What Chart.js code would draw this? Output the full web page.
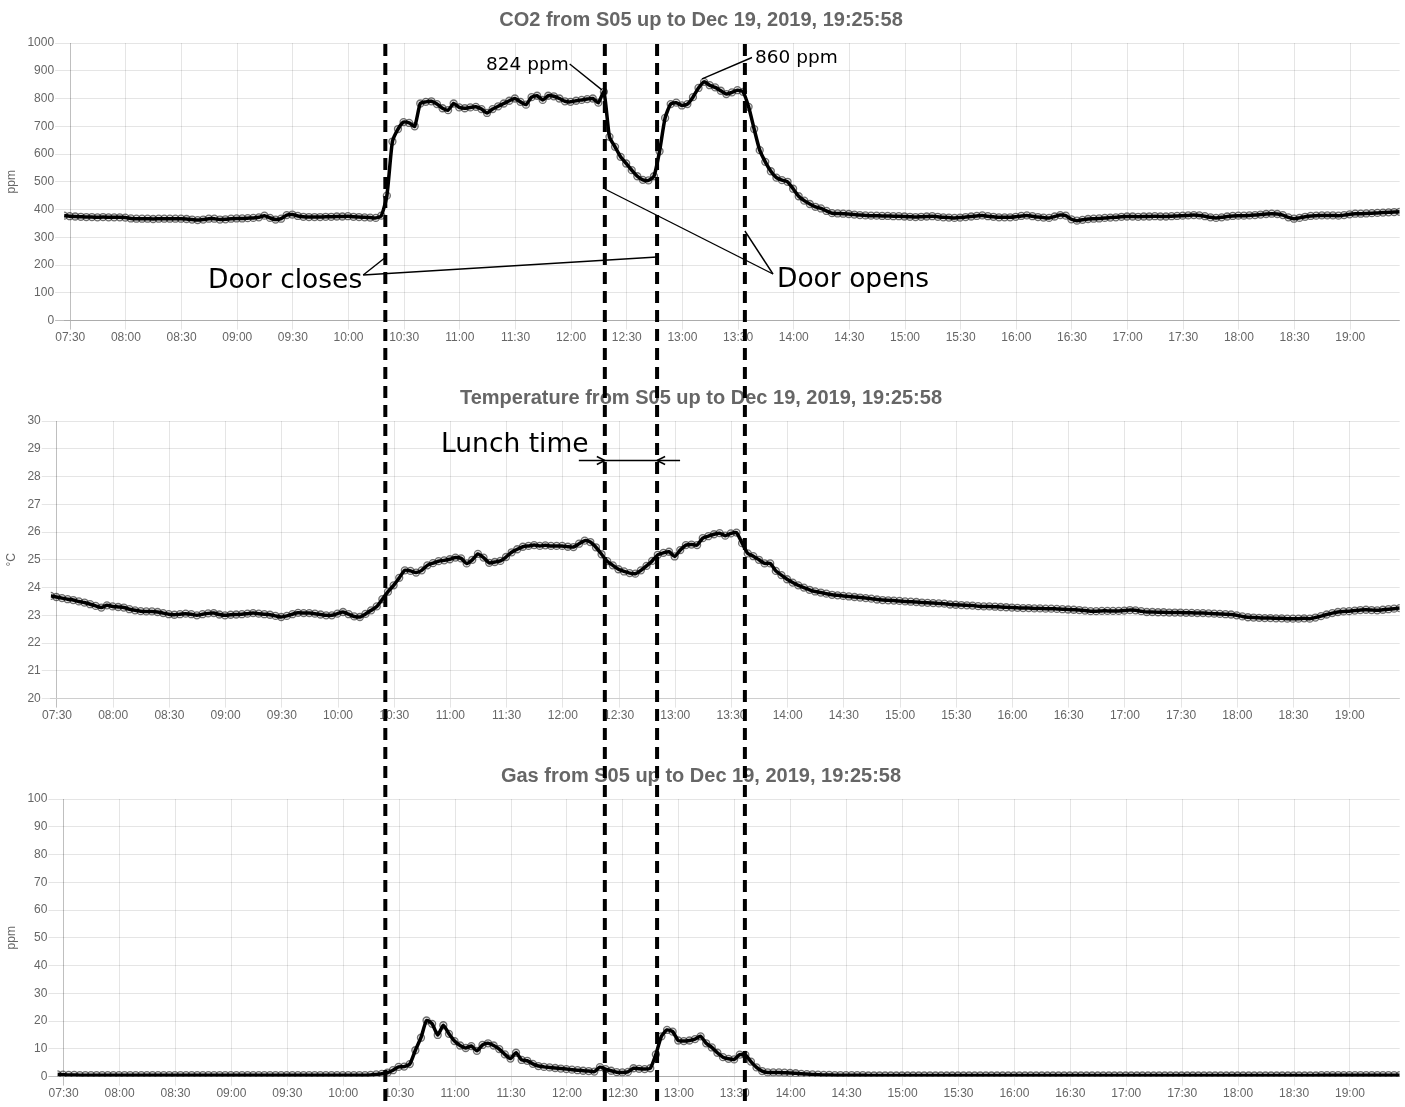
<!DOCTYPE html>
<html>
<head>
<meta charset="utf-8">
<title>S05 | sensors</title>
<script src="https://cdn.jsdelivr.net/npm/chart.js@4.4.1/dist/chart.umd.min.js"></script>
<style>
  html, body { margin: 0; padding: 0; background: #fff; overflow: hidden; }
  #page { position: relative; width: 1405px; height: 1107px; }
  .box { position: absolute; left: 0; width: 1405px; height: 346px; }
  #overlay { position: absolute; left: 0; top: 0; pointer-events: none; }
</style>
</head>
<body>
<div id="page">
  <div class="box" style="top:0"><canvas id="co2Chart"></canvas></div>
  <div class="box" style="top:378px"><canvas id="tempChart"></canvas></div>
  <div class="box" style="top:756px"><canvas id="gasChart"></canvas></div>
  <canvas id="overlay" width="1405" height="1107"></canvas>
</div>
<script>
// readings every 3 minutes
const sampleStart = "07:26:40";
const sampleStep = 3;

const xTickLabels = ["07:30", "08:00", "08:30", "09:00", "09:30", "10:00", "10:30", "11:00",
  "11:30", "12:00", "12:30", "13:00", "13:30", "14:00", "14:30", "15:00", "15:30", "16:00",
  "16:30", "17:00", "17:30", "18:00", "18:30", "19:00"];
const co2Ticks = [0, 100, 200, 300, 400, 500, 600, 700, 800, 900, 1000];
const tempTicks = [20, 21, 22, 23, 24, 25, 26, 27, 28, 29, 30];
const gasTicks = [0, 10, 20, 30, 40, 50, 60, 70, 80, 90, 100];

const co2Values = [
  378, 376, 375, 374, 373, 373, 372, 373, 372, 372, // 07:26
  372, 371, 368, 367, 367, 367, 366, 367, 367, 367, // 07:56
  367, 367, 366, 364, 362, 364, 367, 367, 364, 365, // 08:26
  367, 368, 368, 369, 370, 372, 378, 370, 364, 367, // 08:56
  380, 382, 377, 374, 373, 373, 373, 374, 374, 375, // 09:26
  375, 376, 374, 373, 372, 371, 370, 378, 450, 645, // 09:56
  690, 715, 712, 700, 782, 788, 790, 780, 765, 758, // 10:26
  782, 768, 765, 768, 770, 762, 748, 762, 772, 782, // 10:56
  792, 800, 788, 778, 805, 810, 795, 810, 808, 800, // 11:26
  790, 788, 792, 795, 798, 800, 785, 824, 662, 626, // 11:56
  590, 566, 542, 520, 507, 505, 520, 610, 730, 780, // 12:26
  785, 775, 780, 805, 838, 860, 848, 840, 828, 816, // 12:56
  822, 830, 824, 770, 690, 614, 572, 538, 515, 506, // 13:26
  500, 475, 448, 432, 420, 410, 404, 395, 387, 386, // 13:56
  385, 384, 382, 380, 379, 378, 378, 377, 377, 376, // 14:26
  376, 375, 374, 373, 374, 375, 376, 374, 372, 371, // 14:56
  370, 371, 373, 375, 377, 379, 376, 374, 372, 372, // 15:26
  372, 374, 377, 379, 376, 373, 371, 370, 375, 380, // 15:56
  378, 365, 360, 363, 366, 367, 368, 370, 371, 372, // 16:26
  374, 375, 375, 374, 375, 375, 376, 375, 375, 376, // 16:56
  377, 378, 379, 380, 379, 376, 372, 370, 372, 375, // 17:26
  377, 378, 378, 379, 380, 382, 384, 385, 384, 380, // 17:56
  372, 367, 370, 374, 377, 378, 379, 379, 379, 378, // 18:26
  380, 383, 385, 385, 386, 387, 388, 389, 390, 391, // 18:56
  392
];

const tempValues = [
  23.70, 23.66, 23.62, 23.58, 23.55, 23.50, 23.46, 23.40, 23.34, 23.28,
  23.36, 23.32, 23.30, 23.28, 23.22, 23.18, 23.15, 23.14, 23.14, 23.12,
  23.08, 23.04, 23.02, 23.04, 23.06, 23.04, 23.00, 23.04, 23.07, 23.08,
  23.03, 23.00, 23.02, 23.03, 23.04, 23.06, 23.08, 23.06, 23.04, 23.02,
  22.98, 22.94, 22.98, 23.04, 23.09, 23.08, 23.08, 23.06, 23.03, 23.00,
  23.00, 23.06, 23.12, 23.04, 22.96, 22.94, 23.05, 23.18, 23.32, 23.58,
  23.85, 24.08, 24.35, 24.62, 24.60, 24.54, 24.62, 24.80, 24.88, 24.95,
  24.98, 25.02, 25.08, 25.05, 24.87, 25.00, 25.21, 25.08, 24.89, 24.92,
  24.96, 25.10, 25.27, 25.38, 25.47, 25.50, 25.53, 25.50, 25.52, 25.50,
  25.50, 25.50, 25.47, 25.46, 25.58, 25.69, 25.64, 25.45, 25.20, 24.95,
  24.80, 24.66, 24.58, 24.52, 24.50, 24.62, 24.78, 24.96, 25.18, 25.25,
  25.29, 25.12, 25.35, 25.53, 25.55, 25.53, 25.78, 25.85, 25.92, 25.96,
  25.87, 25.95, 25.98, 25.60, 25.23, 25.13, 25.00, 24.87, 24.87, 24.60,
  24.45, 24.30, 24.18, 24.08, 24.00, 23.92, 23.86, 23.82, 23.78, 23.74,
  23.72, 23.70, 23.68, 23.66, 23.64, 23.62, 23.60, 23.57, 23.55, 23.54,
  23.53, 23.52, 23.50, 23.49, 23.48, 23.46, 23.45, 23.44, 23.43, 23.42,
  23.39, 23.38, 23.37, 23.36, 23.35, 23.33, 23.32, 23.32, 23.31, 23.30,
  23.29, 23.28, 23.27, 23.26, 23.26, 23.25, 23.25, 23.24, 23.24, 23.23,
  23.22, 23.21, 23.20, 23.19, 23.17, 23.15, 23.15, 23.16, 23.16, 23.16,
  23.16, 23.17, 23.19, 23.18, 23.15, 23.12, 23.12, 23.11, 23.11, 23.10,
  23.10, 23.10, 23.09, 23.09, 23.08, 23.08, 23.07, 23.06, 23.05, 23.04,
  23.03, 23.00, 22.96, 22.93, 22.92, 22.91, 22.90, 22.90, 22.89, 22.89,
  22.88, 22.88, 22.88, 22.89, 22.88, 22.92, 22.97, 23.03, 23.08, 23.12,
  23.14, 23.15, 23.17, 23.19, 23.20, 23.19, 23.18, 23.20, 23.22, 23.24,
  23.26
];

const gasValues = [
  0.8, 0.7, 0.6, 0.6, 0.5, 0.5, 0.5, 0.5, 0.5, 0.5,
  0.5, 0.5, 0.5, 0.5, 0.5, 0.5, 0.5, 0.5, 0.5, 0.5,
  0.5, 0.5, 0.5, 0.5, 0.5, 0.5, 0.5, 0.5, 0.5, 0.5,
  0.5, 0.5, 0.5, 0.5, 0.5, 0.5, 0.5, 0.5, 0.5, 0.5,
  0.5, 0.5, 0.5, 0.5, 0.5, 0.5, 0.5, 0.5, 0.5, 0.5,
  0.5, 0.5, 0.5, 0.5, 0.5, 0.5, 0.6, 0.8, 1.0, 1.4,
  2.3, 3.5, 3.6, 4.5, 9.5, 14.0, 20.2, 19.0, 15.0, 18.5,
  15.4, 12.8, 11.2, 10.3, 11.0, 9.3, 11.4, 12.0, 11.2, 9.9,
  8.0, 6.5, 8.6, 6.0, 5.7, 4.6, 3.8, 3.5, 3.3, 3.1,
  2.9, 2.7, 2.5, 2.3, 2.1, 2.0, 1.8, 3.4, 2.7, 2.1,
  1.6, 1.5, 1.7, 3.0, 2.8, 2.7, 3.0, 8.0, 14.5, 16.8,
  16.2, 13.0, 12.8, 13.0, 13.5, 14.5, 12.0, 10.5, 8.6, 7.0,
  6.4, 6.2, 7.9, 7.8, 5.4, 3.3, 2.0, 1.5, 1.5, 1.5,
  1.4, 1.3, 1.2, 1.0, 0.9, 0.8, 0.7, 0.6, 0.6, 0.5,
  0.5, 0.5, 0.5, 0.5, 0.5, 0.4, 0.4, 0.4, 0.4, 0.4,
  0.4, 0.4, 0.4, 0.4, 0.4, 0.4, 0.4, 0.4, 0.4, 0.4,
  0.4, 0.4, 0.4, 0.4, 0.4, 0.4, 0.4, 0.4, 0.4, 0.4,
  0.4, 0.4, 0.4, 0.4, 0.4, 0.4, 0.4, 0.4, 0.4, 0.4,
  0.4, 0.4, 0.4, 0.4, 0.4, 0.4, 0.4, 0.4, 0.4, 0.4,
  0.4, 0.4, 0.4, 0.4, 0.4, 0.4, 0.4, 0.4, 0.4, 0.4,
  0.4, 0.4, 0.4, 0.4, 0.4, 0.4, 0.4, 0.4, 0.4, 0.4,
  0.4, 0.4, 0.4, 0.4, 0.4, 0.4, 0.4, 0.4, 0.4, 0.4,
  0.4, 0.4, 0.4, 0.4, 0.4, 0.4, 0.5, 0.5, 0.5, 0.5,
  0.5, 0.5, 0.5, 0.5, 0.5, 0.5, 0.5, 0.5, 0.5, 0.5,
  0.5
];

// door events, read on the CO2 time axis
const doorTimes = ["10:19:50", "12:18:10", "12:46:20", "13:33:40"];

function toMinutes(s) {
  const p = s.split(":").map(Number);
  return p[0] * 60 + p[1] + (p[2] || 0) / 60;
}

const startMin = toMinutes(sampleStart);
const endMin = startMin + sampleStep * (co2Values.length - 1);
const xTickValues = xTickLabels.map(toMinutes);

Chart.defaults.font.family = "'Liberation Sans', Arial, Helvetica, sans-serif";
Chart.defaults.font.size = 12;
Chart.defaults.color = "#666";

function makeChart(id, title, unit, values, ticks) {
  return new Chart(document.getElementById(id), {
    type: "line",
    data: {
      datasets: [{
        data: values.map((v, i) => ({ x: startMin + i * sampleStep, y: v })),
        borderColor: "#000",
        borderWidth: 3.5,
        pointRadius: 3.5,
        pointBorderWidth: 1.3,
        pointBorderColor: "rgba(0,0,0,0.55)",
        pointBackgroundColor: "rgba(0,0,0,0.1)",
        fill: false,
        tension: 0.2,
      }],
    },
    options: {
      responsive: true,
      maintainAspectRatio: false,
      animation: false,
      layout: { padding: { right: 3 } },
      plugins: {
        legend: { display: false },
        tooltip: { enabled: false },
        title: {
          display: true,
          text: title,
          color: "#666",
          font: { size: 20, weight: "bold" },
          padding: { top: 8, bottom: 11 },
        },
      },
      scales: {
        x: {
          type: "linear",
          min: startMin,
          max: endMin,
          afterBuildTicks: (axis) => { axis.ticks = xTickValues.map((v) => ({ value: v })); },
          ticks: {
            padding: 1,
            maxRotation: 0,
            autoSkip: false,
            callback: (v) => {
              const i = xTickValues.indexOf(v);
              return i >= 0 ? xTickLabels[i] : "";
            },
          },
          grid: {
            color: (ctx) => (ctx.index === 0 ? "rgba(0,0,0,0.25)" : "rgba(0,0,0,0.1)"),
            tickLength: 9,
          },
          border: { color: "rgba(0,0,0,0.1)" },
        },
        y: {
          min: ticks[0],
          max: ticks[ticks.length - 1],
          afterBuildTicks: (axis) => { axis.ticks = ticks.map((v) => ({ value: v })); },
          title: {
            display: true,
            text: unit,
            color: "#666",
            padding: { top: 4, bottom: 8 },
          },
          ticks: { padding: 1, callback: (v) => String(v) },
          grid: {
            color: (ctx) => (ctx.tick && ctx.tick.value === 0 ? "rgba(0,0,0,0.25)" : "rgba(0,0,0,0.1)"),
            tickLength: 9,
          },
          border: { display: false },
        },
      },
    },
  });
}

const co2Chart = makeChart("co2Chart", "CO2 from S05 up to Dec 19, 2019, 19:25:58", "ppm", co2Values, co2Ticks);
const tempChart = makeChart("tempChart", "Temperature from S05 up to Dec 19, 2019, 19:25:58", "°C", tempValues, tempTicks);
const gasChart = makeChart("gasChart", "Gas from S05 up to Dec 19, 2019, 19:25:58", "ppm", gasValues, gasTicks);

// hand-drawn style notes on top of the three charts
const ov = document.getElementById("overlay").getContext("2d");
const doorX = doorTimes.map((t) => co2Chart.scales.x.getPixelForValue(toMinutes(t)));

function seg(x1, y1, x2, y2) {
  ov.beginPath();
  ov.moveTo(x1, y1);
  ov.lineTo(x2, y2);
  ov.stroke();
}

ov.strokeStyle = "#000";
ov.lineWidth = 4;
ov.setLineDash([12, 7]);
doorX.forEach((x) => seg(x, co2Chart.chartArea.top + 1, x, 1107));
ov.setLineDash([]);

ov.fillStyle = "#000";
ov.textBaseline = "alphabetic";
ov.lineWidth = 1.4;

// peaks
const co2Pts = co2Chart.getDatasetMeta(0).data;
const firstPeak = co2Values.indexOf(824);
const secondPeak = co2Values.indexOf(860);
ov.font = "18.5px 'DejaVu Sans'";
ov.fillText("824 ppm", 486, 70);
let w = ov.measureText("824 ppm").width;
seg(486 + w + 1, 64, co2Pts[firstPeak].x - 2, co2Pts[firstPeak].y - 2);
ov.fillText("860 ppm", 755, 62.5);
seg(752, 57.5, co2Pts[secondPeak].x - 2, co2Pts[secondPeak].y - 3);

// door notes
ov.font = "26.5px 'DejaVu Sans'";
ov.fillText("Door closes", 208, 287.5);
w = ov.measureText("Door closes").width;
const cx = 208 + w + 1;
seg(cx, 275, doorX[0], 257.5);
seg(cx, 275, doorX[2], 257);

ov.fillText("Door opens", 777, 286.5);
seg(773, 274, doorX[1], 189);
seg(773, 274, doorX[3], 231);

// lunch interval
ov.fillText("Lunch time", 441, 452);
const ly = 460.5;
seg(doorX[1] - 26, ly, doorX[2] + 23, ly);
seg(doorX[1] - 8, ly - 4, doorX[1], ly);
seg(doorX[1] - 8, ly + 4, doorX[1], ly);
seg(doorX[2] + 8, ly - 4, doorX[2], ly);
seg(doorX[2] + 8, ly + 4, doorX[2], ly);
</script>
</body>
</html>
